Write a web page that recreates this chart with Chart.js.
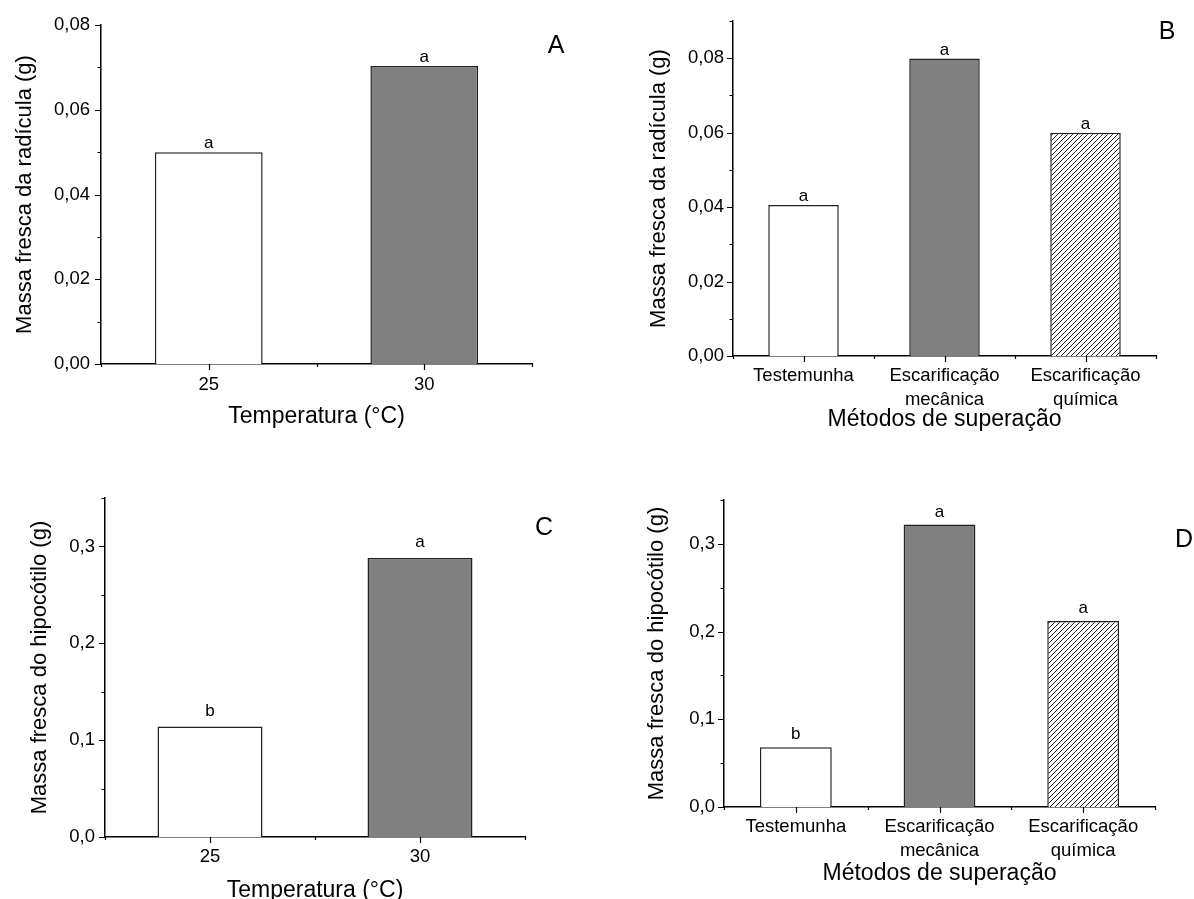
<!DOCTYPE html>
<html>
<head>
<meta charset="utf-8">
<script src="https://cdn.jsdelivr.net/npm/chart.js@4"></script>
<style>
  html, body { margin: 0; padding: 0; background: #fff; overflow: hidden; }
  canvas { position: absolute; }
</style>
</head>
<body>
<canvas id="graficoA" width="597" height="440" style="left:0;top:0"></canvas>
<canvas id="graficoB" width="597" height="440" style="left:597px;top:0"></canvas>
<canvas id="graficoC" width="597" height="480" style="left:0;top:440px"></canvas>
<canvas id="graficoD" width="597" height="459" style="left:597px;top:440px"></canvas>
<script>
// dados
const temperaturas = ['25', '30'];
const metodos = ['Testemunha', ['Escarificação', 'mecânica'], ['Escarificação', 'química']];

const radiculaTemp = [0.050, 0.0703];
const radiculaMetodo = [0.0406, 0.0799, 0.0600];
const hipocotiloTemp = [0.114, 0.288];
const hipocotiloMetodo = [0.068, 0.322, 0.212];

const letrasRadTemp = ['a', 'a'];
const letrasRadMetodo = ['a', 'a', 'a'];
const letrasHipTemp = ['b', 'a'];
const letrasHipMetodo = ['b', 'a', 'a'];

Chart.defaults.font.family = "'Liberation Sans', Arial, sans-serif";
Chart.defaults.color = '#000';

function hachura() {
    const c = document.createElement('canvas');
    c.width = 5; c.height = 5;
    const g = c.getContext('2d');
    g.fillStyle = '#fff';
    g.fillRect(0, 0, 5, 5);
    g.strokeStyle = '#222';
    g.lineWidth = 1;
    g.beginPath();
    g.moveTo(0, 5); g.lineTo(5, 0);
    g.moveTo(-1, 1); g.lineTo(1, -1);
    g.moveTo(4, 6); g.lineTo(6, 4);
    g.stroke();
    return g.createPattern(c, 'repeat');
}

const coresTemp = ['#ffffff', '#808080'];
const coresMetodo = ['#ffffff', '#808080', hachura()];

// marcas de escala no estilo Origin + letras + rótulo do painel
const extras = {
    id: 'extras',
    afterDatasetsDraw(chart, args, o) {
        const { ctx, chartArea: a, scales: { x, y } } = chart;
        ctx.save();
        ctx.strokeStyle = '#000';
        ctx.lineWidth = 1.2;
        ctx.beginPath();
        const n = Math.round((y.max - y.min) / o.menor);
        const razao = Math.round(o.maior / o.menor);
        for (let i = 0; i <= n; i++) {
            const py = Math.round(y.getPixelForValue(y.min + i * o.menor)) + 0.5;
            const len = i % razao === 0 ? 6 : 3.5;
            ctx.moveTo(a.left - len, py); ctx.lineTo(a.left, py);
        }
        const nc = chart.data.labels.length;
        for (let i = 0; i < nc; i++) {
            const px = Math.round(x.getPixelForValue(i)) + 0.5;
            ctx.moveTo(px, a.bottom); ctx.lineTo(px, a.bottom + 6);
        }
        for (let i = 0; i <= nc; i++) {
            const px = Math.round(x.getPixelForValue(i - 0.5)) + 0.5;
            ctx.moveTo(px, a.bottom); ctx.lineTo(px, a.bottom + 3);
        }
        ctx.stroke();

        ctx.fillStyle = '#000';
        ctx.textAlign = 'center';
        ctx.textBaseline = 'alphabetic';
        ctx.font = "17px 'Liberation Sans', Arial, sans-serif";
        chart.getDatasetMeta(0).data.forEach((bar, i) => {
            ctx.fillText(o.letras[i], bar.x, bar.y - o.folga);
        });

        ctx.textBaseline = 'middle';
        ctx.font = "25px 'Liberation Sans', Arial, sans-serif";
        ctx.fillText(o.painel, o.px, o.py);
        ctx.restore();
    }
};

function virgula(casas, maior) {
    return function (v) {
        const k = v / maior;
        if (Math.abs(k - Math.round(k)) > 1e-6) return '';
        return v.toFixed(casas).replace('.', ',');
    };
}

function grafico(id, p) {
    return new Chart(document.getElementById(id), {
        type: 'bar',
        data: {
            labels: p.labels,
            datasets: [{
                data: p.valores,
                backgroundColor: p.cores,
                borderColor: '#222',
                borderWidth: 1.5,
                categoryPercentage: 1,
                barPercentage: 0.5
            }]
        },
        options: {
            responsive: false,
            animation: false,
            events: [],
            layout: { padding: { top: p.topo, right: p.direita, left: 0, bottom: 0 } },
            plugins: {
                legend: { display: false },
                tooltip: { enabled: false },
                extras: p.extras
            },
            scales: {
                x: {
                    offset: true,
                    grid: { display: false, drawTicks: false, tickLength: 0, offset: true },
                    border: { display: true, color: '#000', width: 1.5 },
                    ticks: {
                        font: { size: 18.5, lineHeight: p.alturaLinha },
                        padding: p.padX,
                        maxRotation: 0,
                        autoSkip: false
                    },
                    title: {
                        display: true,
                        text: p.tituloX,
                        font: { size: 23 },
                        padding: { top: 0, bottom: p.padTituloX }
                    },
                    afterFit(s) { s.height = p.alturaX; }
                },
                y: {
                    min: 0,
                    max: p.max,
                    grid: { display: false, drawTicks: false, tickLength: 0 },
                    border: { display: true, color: '#000', width: 1.5 },
                    ticks: {
                        stepSize: p.maior,
                        font: { size: 18.5 },
                        padding: p.padY,
                        callback: virgula(p.casas, p.maior)
                    },
                    title: {
                        display: true,
                        text: p.tituloY,
                        font: { size: 22 },
                        padding: { top: p.padTituloY, bottom: 0 }
                    },
                    afterFit(s) { s.width = p.larguraY; }
                }
            }
        },
        plugins: [extras]
    });
}

grafico('graficoA', {
    labels: temperaturas, valores: radiculaTemp, cores: coresTemp,
    max: 0.08, maior: 0.02, casas: 2,
    topo: 25, direita: 65, larguraY: 101, alturaX: 76,
    padX: 10, alturaLinha: 1.2, padY: 11, padTituloX: 10, padTituloY: 12,
    tituloX: 'Temperatura (°C)', tituloY: 'Massa fresca da radícula (g)',
    extras: { menor: 0.01, maior: 0.02, letras: letrasRadTemp, folga: 4, painel: 'A', px: 556, py: 46 }
});

grafico('graficoB', {
    labels: metodos, valores: radiculaMetodo, cores: coresMetodo,
    max: 0.09, maior: 0.02, casas: 2,
    topo: 21, direita: 38, larguraY: 136, alturaX: 84,
    padX: 8, alturaLinha: 1.3, padY: 9, padTituloX: 7, padTituloY: 49,
    tituloX: 'Métodos de superação', tituloY: 'Massa fresca da radícula (g)',
    extras: { menor: 0.01, maior: 0.02, letras: letrasRadMetodo, folga: 4, painel: 'B', px: 570, py: 32 }
});

grafico('graficoC', {
    labels: temperaturas, valores: hipocotiloTemp, cores: coresTemp,
    max: 0.35, maior: 0.1, casas: 1,
    topo: 58, direita: 72, larguraY: 105, alturaX: 83,
    padX: 9, alturaLinha: 1.2, padY: 10, padTituloX: 16, padTituloY: 27,
    tituloX: 'Temperatura (°C)', tituloY: 'Massa fresca do hipocótilo (g)',
    extras: { menor: 0.05, maior: 0.1, letras: letrasHipTemp, folga: 11, painel: 'C', px: 544, py: 88 }
});

grafico('graficoD', {
    labels: metodos, valores: hipocotiloMetodo, cores: coresMetodo,
    max: 0.35, maior: 0.1, casas: 1,
    topo: 60, direita: 39, larguraY: 127, alturaX: 92,
    padX: 8, alturaLinha: 1.3, padY: 9, padTituloX: 12, padTituloY: 47,
    tituloX: 'Métodos de superação', tituloY: 'Massa fresca do hipocótilo (g)',
    extras: { menor: 0.05, maior: 0.1, letras: letrasHipMetodo, folga: 8, painel: 'D', px: 587, py: 100 }
});
</script>
</body>
</html>
